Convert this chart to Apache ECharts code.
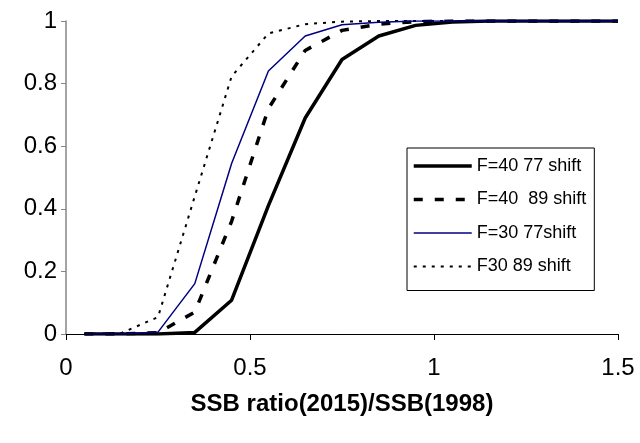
<!DOCTYPE html>
<html>
<head>
<meta charset="utf-8">
<script src="https://cdn.jsdelivr.net/npm/echarts@6/dist/echarts.min.js"></script>
<style>
  html, body { margin: 0; padding: 0; background: #fff; }
  #chart { width: 640px; height: 443px; }
</style>
</head>
<body>
<div id="chart"></div>
<script>
// SSB ratio grid (x) and cumulative probability for each scenario
const ssbRatio = [0.05, 0.15, 0.25, 0.35, 0.45, 0.55, 0.65, 0.75, 0.85, 0.95, 1.05, 1.15, 1.25, 1.35, 1.45, 1.5];
const f40s77 = [0, 0, 0, 0.005, 0.108, 0.41, 0.69, 0.877, 0.952, 0.986, 0.997, 1, 1, 1, 1, 1];
const f40s89 = [0, 0, 0.004, 0.07, 0.36, 0.72, 0.906, 0.97, 0.99, 0.998, 1, 1, 1, 1, 1, 1];
const f30s77 = [0, 0, 0.006, 0.161, 0.545, 0.84, 0.952, 0.988, 0.996, 1, 1, 1, 1, 1, 1, 1];
const f30s89 = [0, 0.003, 0.054, 0.44, 0.823, 0.96, 0.99, 0.998, 1, 1, 1, 1, 1, 1, 1, 1];
const seriesNames = ['F=40 77 shift', 'F=40  89 shift', 'F=30 77shift', 'F30 89 shift'];
const xTicks = [0, 0.5, 1, 1.5];
const yTicks = [0, 0.2, 0.4, 0.6, 0.8, 1];

const FONT = 'Liberation Sans, Arial, sans-serif';
const pair = (ys) => ssbRatio.map((x, i) => [x, ys[i]]);

// one line style per scenario, shared by the plot and the legend key
const styles = [
  { color: '#000', width: 3.5, type: 'solid' },
  { color: '#000', width: 3.5, type: [9, 12] },
  { color: '#000080', width: 1.5, type: 'solid' },
  { color: '#000', width: 2, type: [3, 6] }
];
const values = [f40s77, f40s89, f30s77, f30s89];
const zOrder = [4, 3, 5, 2];

const chart = echarts.init(document.getElementById('chart'));
chart.setOption({
  animation: false,
  backgroundColor: '#fff',
  grid: { left: 66, right: 22, top: 21, bottom: 109, containLabel: false },
  xAxis: {
    type: 'value',
    min: xTicks[0], max: xTicks[xTicks.length - 1], interval: 0.5,
    name: 'SSB ratio(2015)/SSB(1998)',
    nameLocation: 'middle',
    nameGap: 58,
    nameTextStyle: { fontFamily: FONT, fontSize: 24, fontWeight: 'bold', color: '#000' },
    axisLine: { show: true, onZero: false, lineStyle: { color: '#000', width: 1 } },
    axisTick: { show: true, length: 6, lineStyle: { color: '#000' } },
    axisLabel: { fontFamily: FONT, fontSize: 24, color: '#000', margin: 22 },
    splitLine: { show: false }
  },
  yAxis: {
    type: 'value',
    min: yTicks[0], max: yTicks[yTicks.length - 1], interval: 0.2,
    axisLine: { show: true, lineStyle: { color: '#868686', width: 1.5 } },
    axisTick: { show: true, length: 5, lineStyle: { color: '#868686' } },
    axisLabel: { fontFamily: FONT, fontSize: 24, color: '#000', margin: 9 },
    splitLine: { show: false }
  },
  legend: {
    orient: 'vertical',
    left: 407, top: 148,
    padding: [9, 8, 15, 5],
    itemWidth: 58, itemHeight: 14, itemGap: 15.5,
    borderColor: '#000', borderWidth: 1,
    backgroundColor: '#fff',
    itemStyle: { opacity: 0 },
    textStyle: { fontFamily: FONT, fontSize: 18, color: '#000' },
    data: seriesNames.map((n, i) => ({ name: n, lineStyle: { width: styles[i].width, type: styles[i].type, color: styles[i].color } }))
  },
  series: seriesNames.map((n, i) => ({
    name: n, type: 'line', data: pair(values[i]), symbol: 'none', z: zOrder[i],
    lineStyle: styles[i], itemStyle: { color: styles[i].color }
  }))
});
</script>
</body>
</html>
